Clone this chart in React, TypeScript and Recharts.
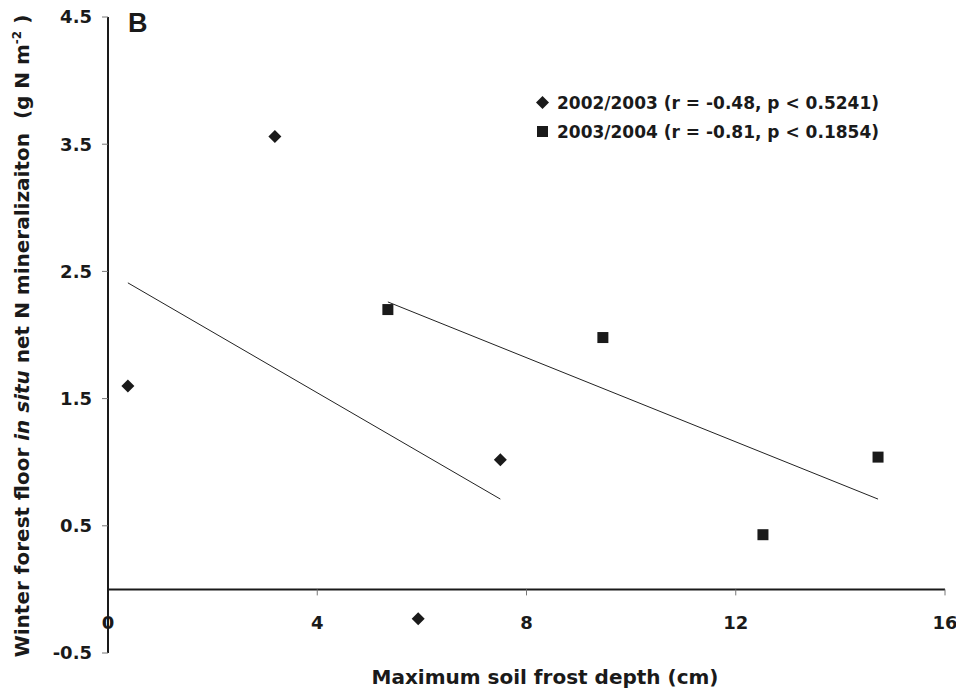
import { ScatterChart, Scatter, XAxis, YAxis, ReferenceLine, Legend, Label } from 'recharts'

// maximum soil frost depth (cm) vs winter net N mineralization (g N m-2)
const frost0203 = [0.38, 3.19, 7.5, 5.93]
const nmin0203 = [1.6, 3.56, 1.02, -0.23]
const frost0304 = [5.35, 9.46, 12.52, 14.72]
const nmin0304 = [2.2, 1.98, 0.43, 1.04]

// fitted lines (start / end)
const fitX0203 = [0.38, 7.5]
const fitY0203 = [2.41, 0.71]
const fitX0304 = [5.35, 14.72]
const fitY0304 = [2.26, 0.71]

const seriesNames = ['2002/2003 (r = -0.48, p < 0.5241)', '2003/2004 (r = -0.81, p < 0.1854)']
const xTicks = [0, 4, 8, 12, 16]
const yTicks = [-0.5, 0.5, 1.5, 2.5, 3.5, 4.5]

const FONT = '"DejaVu Sans", sans-serif'
const INK = '#1a1a1a'

const W = 956
const H = 694
const MARGIN = { top: 17, right: 11, bottom: 0, left: 48 }
const Y_AXIS_W = 60
const X_AXIS_H = 41
const Y_MIN = -0.5
const Y_MAX = 4.5
const PLOT_H = H - MARGIN.top - MARGIN.bottom - X_AXIS_H
const ZERO_Y = MARGIN.top + (PLOT_H * Y_MAX) / (Y_MAX - Y_MIN)

const toPoints = (xs: number[], ys: number[]) => xs.map((x, i) => ({ x, y: ys[i] }))

const data0203 = toPoints(frost0203, nmin0203)
const data0304 = toPoints(frost0304, nmin0304)

const Diamond = ({ cx, cy }: any) => {
  const r = 6.5
  return <polygon points={`${cx},${cy - r} ${cx + r},${cy} ${cx},${cy + r} ${cx - r},${cy}`} fill={INK} />
}

const Square = ({ cx, cy }: any) => <rect x={cx - 5.5} y={cy - 5.5} width={11} height={11} fill={INK} />

// x axis sits on y = 0, so ticks and labels are drawn there
const XTick = ({ x, payload }: any) => (
  <g>
    {payload.value !== 0 && <line x1={x} x2={x} y1={ZERO_Y} y2={ZERO_Y + 6} stroke="#777" strokeWidth={1} />}
    <text x={x} y={ZERO_Y + 40} textAnchor="middle" fontFamily={FONT} fontWeight="bold" fontSize={18} fill={INK}>
      {payload.value}
    </text>
  </g>
)

const LegendBox = () => (
  <div style={{ fontFamily: FONT, fontWeight: 'bold', fontSize: 17, color: INK }}>
    {seriesNames.map((name, i) => (
      <div key={name} style={{ display: 'flex', alignItems: 'center', height: 29, whiteSpace: 'nowrap' }}>
        <svg width={13} height={13} style={{ marginRight: 8 }}>
          {i === 0 ? <Diamond cx={6.5} cy={6.5} /> : <Square cx={6.5} cy={6.5} />}
        </svg>
        {name}
      </div>
    ))}
  </div>
)

export default function App() {
  return (
    <div style={{ position: 'absolute', left: 0, top: 0, width: W, height: H, background: '#fff' }}>
      <ScatterChart width={W} height={H} margin={MARGIN}>
        <XAxis
          type="number"
          dataKey="x"
          domain={[0, 16]}
          ticks={xTicks}
          height={X_AXIS_H}
          axisLine={false}
          tickLine={false}
          tickSize={0}
          tickMargin={0}
          tick={<XTick />}
        >
          <Label
            content={() => (
              <text x={545} y={684} textAnchor="middle" fontFamily={FONT} fontWeight="bold" fontSize={20} fill={INK}>
                Maximum soil frost depth (cm)
              </text>
            )}
          />
        </XAxis>
        <YAxis
          type="number"
          dataKey="y"
          domain={[Y_MIN, Y_MAX]}
          ticks={yTicks}
          width={Y_AXIS_W}
          axisLine={{ stroke: INK, strokeWidth: 2 }}
          tickLine={{ stroke: '#777', strokeWidth: 1 }}
          tickSize={6}
          tickMargin={10}
          tick={{ fontFamily: FONT, fontWeight: 'bold', fontSize: 18, fill: INK }}
        >
          <Label
            content={() => (
              <text
                transform="translate(29, 336) rotate(-90)"
                textAnchor="middle"
                fontFamily={FONT}
                fontWeight="bold"
                fontSize={20}
                fill={INK}
              >
                Winter forest floor <tspan fontStyle="italic">in situ</tspan> net N mineralizaiton{'\u00a0'} (g N m
                <tspan dy={-8} fontSize={12}>-2</tspan>
                <tspan dy={8}> )</tspan>
              </text>
            )}
          />
        </YAxis>
        <ReferenceLine y={0} stroke={INK} strokeWidth={2} />
        <ReferenceLine
          segment={toPoints(fitX0203, fitY0203)}
          stroke="#222"
          strokeWidth={1}
        />
        <ReferenceLine
          segment={toPoints(fitX0304, fitY0304)}
          stroke="#222"
          strokeWidth={1}
        />
        <Scatter name={seriesNames[0]} data={data0203} shape={<Diamond />} isAnimationActive={false} />
        <Scatter name={seriesNames[1]} data={data0304} shape={<Square />} isAnimationActive={false} />
        <Legend
          layout="vertical"
          align="center"
          verticalAlign="middle"
          content={() => <LegendBox />}
          wrapperStyle={{ left: 536, top: 88, width: 'auto' }}
        />
      </ScatterChart>
      <div
        style={{
          position: 'absolute',
          left: 128,
          top: 8,
          fontFamily: '"Liberation Sans", Arial, sans-serif',
          fontWeight: 'bold',
          fontSize: 27,
          lineHeight: '30px',
          color: INK,
        }}
      >
        B
      </div>
    </div>
  )
}
